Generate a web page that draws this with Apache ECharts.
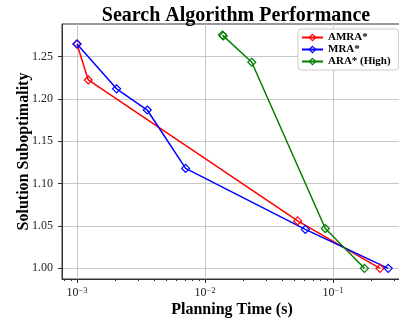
<!DOCTYPE html>
<html>
<head>
<meta charset="utf-8">
<script src="https://cdn.jsdelivr.net/npm/echarts@6/dist/echarts.min.js"></script>
<style>html,body{margin:0;padding:0;background:#fff}#c{width:399px;height:321px}</style>
</head>
<body>
<div id="c"></div>
<script>
// ---- data ----
const seriesNames = ['AMRA*', 'MRA*', 'ARA* (High)'];
const amraTime = [0.001, 0.001225, 0.053, 0.233];
const amraSubopt = [1.265, 1.2225, 1.056, 1.0];
const mraTime = [0.001, 0.00204, 0.00354, 0.00706, 0.0608, 0.270];
const mraSubopt = [1.265, 1.212, 1.187, 1.118, 1.046, 1.0];
const araTime = [0.0137, 0.0139, 0.0232, 0.0871, 0.176];
const araSubopt = [1.2755, 1.2745, 1.2434, 1.047, 1.0];
const xMajorTicks = [0.001, 0.01, 0.1];
const xMinorTicks = [0.0008, 0.0009, 0.002, 0.003, 0.004, 0.005, 0.006, 0.007, 0.008, 0.009,
  0.02, 0.03, 0.04, 0.05, 0.06, 0.07, 0.08, 0.09, 0.2, 0.3];
const yTicks = [1.00, 1.05, 1.10, 1.15, 1.20, 1.25];
const colors = ['#ff0000', '#0000ff', '#008000'];

const pairs = (xs, ys) => xs.map((x, i) => [x, ys[i]]);
const X_MIN = 0.000764, X_MAX = 0.346, Y_MIN = 0.9874, Y_MAX = 1.2886;
const FONT = 'Liberation Serif';

const chart = echarts.init(document.getElementById('c'), null, {renderer: 'canvas'});
const mk = (name, data, color) => ({
  name, type: 'line', data, xAxisIndex: 0, yAxisIndex: 0,
  symbol: 'diamond', symbolSize: 8,
  itemStyle: {color: 'rgba(255,255,255,0)', borderColor: color, borderWidth: 1.2},
  lineStyle: {color, width: 1.5},
  emphasis: {disabled: true}, animation: false
});
const supLabel = v => {
  const e = Math.round(Math.log10(v));
  return '{b|10}{s|\u2212' + Math.abs(e) + '}';
};
chart.setOption({
  animation: false,
  title: {
    text: 'Search Algorithm Performance', left: 231, top: 1, textAlign: 'center',
    textStyle: {fontFamily: FONT, fontWeight: 'bold', fontSize: 20, color: '#000'}
  },
  legend: {
    orient: 'vertical', left: 298, top: 29,
    data: seriesNames.map((n, i) => ({
      name: n,
      itemStyle: {color: 'rgba(255,255,255,0)', borderColor: colors[i], borderWidth: 1.2}
    })),
    itemWidth: 21, itemHeight: 8, itemGap: 1,
    padding: [3, 8, 3, 3],
    backgroundColor: '#fff', borderColor: '#cccccc', borderWidth: 1, borderRadius: 3,
    textStyle: {fontFamily: FONT, fontSize: 11, fontWeight: 'bold', color: '#000', lineHeight: 10.5}
  },
  grid: {left: 62, top: 24, right: -3, bottom: 42, show: true, borderColor: '#333', borderWidth: 1,
    containLabel: false, outerBoundsMode: 'none'},
  xAxis: [{
    type: 'log', logBase: 10, min: X_MIN, max: X_MAX,
    name: 'Planning Time (s)', nameLocation: 'middle', nameGap: 23, nameMoveOverlap: false,
    nameTextStyle: {fontFamily: FONT, fontWeight: 'bold', fontSize: 16, color: '#000'},
    axisLine: {show: true, lineStyle: {color: '#333', width: 1}},
    axisTick: {show: true, length: 4, customValues: xMajorTicks, lineStyle: {color: '#333'}},
    axisLabel: {
      customValues: xMajorTicks, margin: 7, formatter: supLabel,
      rich: {
        b: {fontFamily: FONT, fontSize: 12, color: '#222', lineHeight: 14},
        s: {fontFamily: FONT, fontSize: 8.5, color: '#222', verticalAlign: 'top', lineHeight: 14, padding: [0, 0, 7, 0]}
      }
    },
    splitLine: {show: true, lineStyle: {color: '#c8c8c8', width: 1}}
  }, {
    type: 'log', logBase: 10, min: X_MIN, max: X_MAX, position: 'bottom',
    axisLine: {show: false},
    axisTick: {show: true, length: 2, customValues: xMinorTicks, lineStyle: {color: '#333'}},
    axisLabel: {show: false},
    splitLine: {show: false}
  }],
  yAxis: {
    type: 'value', min: Y_MIN, max: Y_MAX,
    name: 'Solution Suboptimality', nameLocation: 'middle', nameGap: 30, nameRotate: 90, nameMoveOverlap: false,
    nameTextStyle: {fontFamily: FONT, fontWeight: 'bold', fontSize: 16, color: '#000'},
    axisLine: {show: true, lineStyle: {color: '#333', width: 1}},
    axisTick: {show: true, length: 4, customValues: yTicks, lineStyle: {color: '#333'}},
    axisLabel: {customValues: yTicks, margin: 9, formatter: v => v.toFixed(2),
      fontFamily: FONT, fontSize: 12, color: '#222'},
    splitLine: {show: true, lineStyle: {color: '#c8c8c8', width: 1}}
  },
  series: [
    mk(seriesNames[0], pairs(amraTime, amraSubopt), colors[0]),
    mk(seriesNames[1], pairs(mraTime, mraSubopt), colors[1]),
    mk(seriesNames[2], pairs(araTime, araSubopt), colors[2])
  ]
});
</script>
</body>
</html>
